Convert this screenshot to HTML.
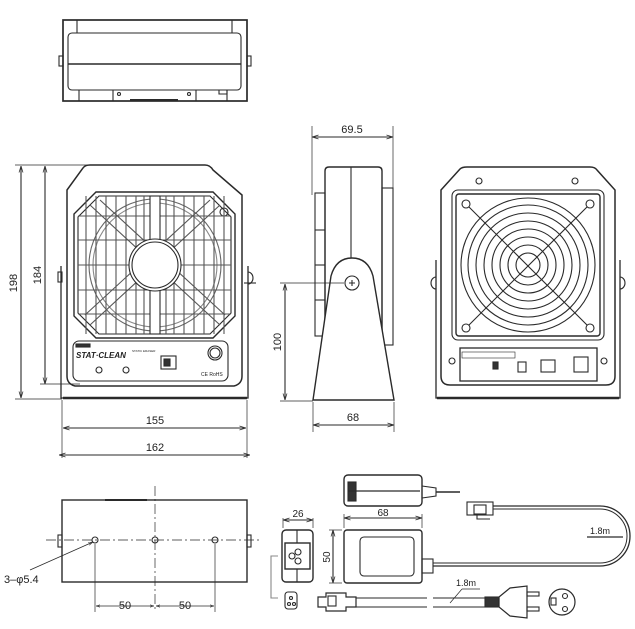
<!DOCTYPE html>
<html><head><meta charset="utf-8"><style>
html,body{margin:0;padding:0;background:#fff;}
svg{display:block;}
text{font-family:"Liberation Sans",sans-serif;fill:#222;}
</style></head><body>
<svg width="635" height="629" viewBox="0 0 635 629" xmlns="http://www.w3.org/2000/svg">
<defs>
<marker id="a" viewBox="0 0 10 10" refX="10" refY="5" markerWidth="6" markerHeight="6" orient="auto-start-reverse"><path d="M0,2 L10,5 L0,8" fill="none" stroke="#333" stroke-width="1.2"/></marker>
</defs>
<g fill="none" stroke="#2a2a2a" stroke-width="1.1">

<!-- TOP VIEW -->
<rect x="63" y="20" width="184" height="81" stroke-width="1.7"/>
<rect x="68" y="33" width="173" height="57" rx="4"/>
<line x1="68" y1="64" x2="241" y2="64" stroke-width="1.4"/>
<line x1="77" y1="20" x2="77" y2="33"/><line x1="232" y1="20" x2="232" y2="33"/>
<line x1="79" y1="90" x2="79" y2="101"/><line x1="113" y1="90" x2="113" y2="101"/><line x1="196" y1="90" x2="196" y2="101"/><line x1="227" y1="90" x2="227" y2="101"/>
<circle cx="119" cy="94" r="1.5"/><circle cx="189" cy="94" r="1.5"/>
<rect x="59" y="56" width="4" height="10"/><rect x="247" y="56" width="4" height="10"/>
<line x1="130" y1="100" x2="178" y2="100" stroke-width="2"/>
<path d="M219,90 v4 h8 v-4"/>

<!-- FRONT VIEW -->
<path d="M67,190 L83,168 Q85,165 90,165 L205,165 Q210,165 213,170 L242,195 L242,376 Q242,384 234,386 L75,386 Q67,384 67,376 Z" stroke-width="1.5"/>
<path d="M61,266 L61,398 L248,398 L248,266" stroke-width="1.3"/>
<line x1="63" y1="398" x2="247" y2="398" stroke-width="2.4"/>
<rect x="58" y="272" width="4" height="10"/>
<path d="M248,272 a5,6 0 0 1 0,12"/><line x1="244" y1="283" x2="256" y2="283"/>
<circle cx="224" cy="212" r="4"/>
<path d="M96,192 L213,192 L235,214 L235,316 L213,338 L96,338 L74,316 L74,214 Z" stroke-width="1.4"/>
<path d="M99,196 L210,196 L231,217 L231,313 L210,334 L99,334 L78,313 L78,217 Z"/>
<circle cx="155" cy="265" r="66" stroke="#666"/>
<circle cx="155" cy="265" r="62" stroke="#888"/>
<g stroke="#555">
<line x1="86" y1="196" x2="86" y2="334"/><line x1="96" y1="196" x2="96" y2="334"/><line x1="106" y1="196" x2="106" y2="334"/><line x1="116" y1="196" x2="116" y2="334"/><line x1="126" y1="196" x2="126" y2="334"/><line x1="136" y1="196" x2="136" y2="334"/><line x1="144" y1="196" x2="144" y2="334"/>
<line x1="166" y1="196" x2="166" y2="334"/><line x1="174" y1="196" x2="174" y2="334"/><line x1="184" y1="196" x2="184" y2="334"/><line x1="194" y1="196" x2="194" y2="334"/><line x1="204" y1="196" x2="204" y2="334"/><line x1="214" y1="196" x2="214" y2="334"/><line x1="224" y1="196" x2="224" y2="334"/>
<line x1="78" y1="240" x2="231" y2="240"/><line x1="78" y1="290" x2="231" y2="290"/><line x1="78" y1="216" x2="231" y2="216"/><line x1="78" y1="314" x2="231" y2="314"/><line x1="78" y1="265" x2="231" y2="265"/>
<line x1="90" y1="205" x2="220" y2="325"/><line x1="220" y1="205" x2="90" y2="325"/>
<line x1="100" y1="200" x2="225" y2="315"/><line x1="210" y1="200" x2="85" y2="315"/>
</g>
<rect x="150" y="196" width="10" height="138" fill="#fff"/>
<circle cx="155" cy="265" r="26" fill="#fff"/><circle cx="155" cy="265" r="23"/>
<rect x="73" y="341" width="155" height="40" rx="6" fill="#fff"/>
<rect x="76" y="344" width="14" height="3" fill="#333"/>
<circle cx="99" cy="370" r="3"/><circle cx="126" cy="370" r="3"/>
<rect x="161" y="356" width="15" height="13"/><rect x="164" y="359" width="6" height="7" fill="#333"/>
<circle cx="215" cy="353" r="7"/><circle cx="215" cy="353" r="5"/>

<line x1="21" y1="166" x2="21" y2="398" marker-start="url(#a)" marker-end="url(#a)"/>
<line x1="45" y1="166" x2="45" y2="384" marker-start="url(#a)" marker-end="url(#a)"/>
<line x1="15" y1="165" x2="100" y2="165" stroke-width="0.7"/>
<line x1="15" y1="399" x2="62" y2="399" stroke-width="0.7"/>
<line x1="40" y1="384" x2="80" y2="384" stroke-width="0.7"/>
<line x1="62" y1="400" x2="62" y2="458" stroke-width="0.7"/><line x1="247" y1="400" x2="247" y2="458" stroke-width="0.7"/>
<line x1="63" y1="428" x2="246" y2="428" marker-start="url(#a)" marker-end="url(#a)"/>
<line x1="59" y1="455" x2="250" y2="455" marker-start="url(#a)" marker-end="url(#a)"/>

<!-- SIDE VIEW -->
<path d="M325,171 Q325,167 329,167 L378,167 Q382,167 382,171 L382,340 L325,340 Z" stroke-width="1.4"/>
<line x1="351" y1="167" x2="351" y2="260"/>
<rect x="315" y="193" width="10" height="143"/>
<rect x="382" y="188" width="11" height="157"/>
<line x1="315" y1="230" x2="325" y2="230"/><line x1="315" y1="265" x2="325" y2="265"/><line x1="315" y1="300" x2="325" y2="300"/>
<path d="M313,400 L331,276 Q336,258 352,258 Q368,258 373,276 L394,400 Z" fill="#fff" stroke-width="1.4"/>
<circle cx="352" cy="283" r="7"/><path d="M349,283 h6 M352,280 v6"/>
<line x1="312" y1="126" x2="312" y2="195" stroke-width="0.7"/><line x1="393" y1="126" x2="393" y2="190" stroke-width="0.7"/>
<line x1="312" y1="137" x2="393" y2="137" marker-start="url(#a)" marker-end="url(#a)"/>
<line x1="280" y1="283" x2="344" y2="283" stroke-width="0.7"/><line x1="280" y1="401" x2="313" y2="401" stroke-width="0.7"/>
<line x1="285" y1="284" x2="285" y2="400" marker-start="url(#a)" marker-end="url(#a)"/>
<line x1="313" y1="402" x2="313" y2="432" stroke-width="0.7"/><line x1="394" y1="402" x2="394" y2="432" stroke-width="0.7"/>
<line x1="313" y1="425" x2="394" y2="425" marker-start="url(#a)" marker-end="url(#a)"/>

<!-- BACK VIEW -->
<path d="M441,190 L460,169 Q462,167 467,167 L590,167 Q595,167 597,170 L615,190 L615,376 Q615,385 606,385 L450,385 Q441,385 441,376 Z" stroke-width="1.5"/>
<path d="M436,260 L436,398 L620,398 L620,260" stroke-width="1.3"/>
<line x1="437" y1="398" x2="619" y2="398" stroke-width="2.4"/>
<path d="M436,277 a5,6 0 0 0 0,12"/><path d="M620,277 a5,6 0 0 1 0,12"/>
<circle cx="479" cy="181" r="3"/><circle cx="575" cy="181" r="3"/>
<rect x="452" y="190" width="152" height="150" rx="6"/>
<rect x="456" y="194" width="144" height="142" rx="3" stroke-width="1.4"/>
<circle cx="528" cy="265" r="67"/><circle cx="528" cy="265" r="60"/><circle cx="528" cy="265" r="52"/><circle cx="528" cy="265" r="44"/><circle cx="528" cy="265" r="36"/><circle cx="528" cy="265" r="28"/><circle cx="528" cy="265" r="20"/><circle cx="528" cy="265" r="12"/>
<line x1="466" y1="204" x2="590" y2="328"/><line x1="590" y1="204" x2="466" y2="328"/>
<circle cx="466" cy="204" r="4" fill="#fff"/><circle cx="590" cy="204" r="4" fill="#fff"/><circle cx="466" cy="328" r="4" fill="#fff"/><circle cx="590" cy="328" r="4" fill="#fff"/>
<rect x="460" y="348" width="137" height="33" stroke-width="1.3"/>
<circle cx="452" cy="361" r="3"/><circle cx="604" cy="361" r="3"/>
<rect x="462" y="352" width="53" height="6" stroke-width="0.6"/>
<rect x="518" y="362" width="8" height="10"/>
<rect x="541" y="360" width="14" height="12"/>
<rect x="574" y="357" width="14" height="15"/>
<rect x="493" y="362" width="5" height="7" fill="#333"/>

<!-- BOTTOM VIEW -->
<rect x="62" y="500" width="185" height="82" stroke-width="1.4"/>
<line x1="105" y1="500" x2="147" y2="500" stroke-width="2"/>
<rect x="58" y="535" width="4" height="12"/><rect x="247" y="535" width="4" height="12"/>
<line x1="46" y1="540" x2="262" y2="540" stroke-dasharray="10,3,2,3" stroke-width="0.7"/>
<line x1="155" y1="486" x2="155" y2="612" stroke-dasharray="10,3,2,3" stroke-width="0.7"/>
<circle cx="95" cy="540" r="3"/><circle cx="155" cy="540" r="3"/><circle cx="215" cy="540" r="3"/>
<line x1="95" y1="544" x2="95" y2="612" stroke-width="0.7"/><line x1="215" y1="544" x2="215" y2="612" stroke-width="0.7"/>
<line x1="96" y1="606" x2="154" y2="606" marker-start="url(#a)" marker-end="url(#a)" stroke-width="0.7"/>
<line x1="156" y1="606" x2="214" y2="606" marker-start="url(#a)" marker-end="url(#a)" stroke-width="0.7"/>
<line x1="30" y1="570" x2="93" y2="542" marker-end="url(#a)" stroke-width="0.8"/>

<rect x="282" y="530" width="31" height="52" rx="4" stroke-width="1.4"/>
<line x1="297" y1="530" x2="297" y2="582"/>
<rect x="285" y="543" width="25" height="26" fill="#fff" stroke-width="1.4"/>
<circle cx="292" cy="556" r="3"/><circle cx="298" cy="552" r="3"/><circle cx="298" cy="561" r="3"/>
<line x1="283" y1="518" x2="283" y2="528" stroke-width="0.7"/><line x1="313" y1="518" x2="313" y2="528" stroke-width="0.7"/>
<line x1="283" y1="520" x2="313" y2="520" marker-start="url(#a)" marker-end="url(#a)"/>
<path d="M278,556 h-7 v42 h7" stroke="#888"/>
<rect x="285" y="592" width="12" height="17" rx="3"/>
<circle cx="291" cy="598" r="1.5"/><circle cx="289" cy="604" r="1.5"/><circle cx="294" cy="604" r="1.5"/>

<rect x="344" y="475" width="78" height="31" rx="4" stroke-width="1.4"/>
<rect x="348" y="482" width="8" height="19" fill="#333"/>
<line x1="348" y1="491" x2="420" y2="491" stroke-width="1.3"/>
<path d="M422,486 L436,488 L436,496 L422,498"/><line x1="436" y1="492" x2="460" y2="492" stroke-width="1.5"/>
<rect x="344" y="530" width="78" height="53" rx="3" stroke-width="1.4"/>
<rect x="360" y="537" width="54" height="39" rx="4"/>
<rect x="422" y="559" width="11" height="14"/>
<line x1="344" y1="518" x2="422" y2="518" marker-start="url(#a)" marker-end="url(#a)"/>
<line x1="344" y1="514" x2="344" y2="528" stroke-width="0.7"/><line x1="422" y1="514" x2="422" y2="528" stroke-width="0.7"/>
<line x1="333" y1="530" x2="333" y2="583" marker-start="url(#a)" marker-end="url(#a)"/>
<line x1="329" y1="530" x2="342" y2="530" stroke-width="0.7"/><line x1="329" y1="583" x2="342" y2="583" stroke-width="0.7"/>

<rect x="467" y="502" width="26" height="13"/><rect x="474" y="505" width="12" height="9"/>
<path d="M493,506 L600,506 A30,30 0 0 1 600,566 L433,566" stroke-width="1.3"/>
<path d="M493,509 L600,509 A27,27 0 0 1 600,563 L433,563" stroke-width="1"/>
<path d="M477,515 v4 h13"/>
<line x1="587" y1="537" x2="623" y2="537" stroke-width="1.3"/>

<path d="M318,597 h8 v-4 h20 v4 h10 v10 h-10 v4 h-20 v-4 h-8 z" stroke-width="1.2"/>
<rect x="328" y="596" width="8" height="10"/>
<line x1="356" y1="598" x2="427" y2="598"/><line x1="356" y1="607" x2="427" y2="607"/>
<line x1="433" y1="598" x2="485" y2="598"/><line x1="433" y1="607" x2="485" y2="607"/>
<line x1="450" y1="603" x2="462" y2="589" stroke-width="0.7"/><line x1="462" y1="589" x2="480" y2="589" stroke-width="0.7"/>
<rect x="485" y="597" width="14" height="10" fill="#333"/>
<path d="M499,597 L510,588 L527,586 L527,618 L510,616 L499,607 Z" stroke-width="1.2"/>
<rect x="527" y="592" width="12" height="4"/><rect x="527" y="607" width="12" height="4"/>
<circle cx="562" cy="602" r="13" stroke-width="1.2"/>
<circle cx="565" cy="596" r="2.5"/><circle cx="565" cy="609" r="2.5"/><rect x="551" y="598" width="5" height="7"/>
</g>

<g font-size="11">
<text x="17" y="283" transform="rotate(-90 17 283)" text-anchor="middle">198</text>
<text x="41" y="275" transform="rotate(-90 41 275)" text-anchor="middle">184</text>
<text x="155" y="424" text-anchor="middle">155</text>
<text x="155" y="451" text-anchor="middle">162</text>
<text x="352" y="133" text-anchor="middle">69.5</text>
<text x="281" y="342" transform="rotate(-90 281 342)" text-anchor="middle">100</text>
<text x="353" y="421" text-anchor="middle">68</text>
<text x="125" y="609" text-anchor="middle">50</text>
<text x="185" y="609" text-anchor="middle">50</text>
<text x="4" y="583">3–φ5.4</text>
<text x="298" y="517" text-anchor="middle" font-size="10">26</text>
<text x="383" y="516" text-anchor="middle" font-size="10">68</text>
<text x="330" y="557" transform="rotate(-90 330 557)" text-anchor="middle" font-size="10">50</text>
<text x="590" y="534" font-size="9">1.8m</text>
<text x="456" y="586" font-size="9">1.8m</text>
<text x="76" y="358" font-size="8" font-style="italic" font-weight="bold">STAT·CLEAN</text>
<text x="132" y="352" font-size="3">STATIC ERASER</text>
<text x="201" y="376" font-size="5">CE RoHS</text>
</g>
</svg>
</body></html>
